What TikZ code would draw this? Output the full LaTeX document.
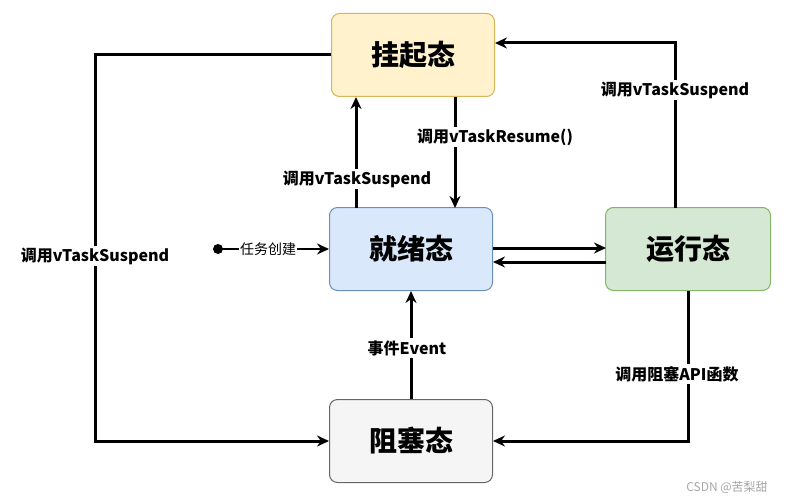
\documentclass[tikz,border=0pt]{standalone}
\usepackage{fontspec}
\setmainfont{Noto Sans CJK SC}
\usetikzlibrary{arrows.meta}
\definecolor{sf}{HTML}{FFF2CC}\definecolor{sd}{HTML}{D6B656}
\definecolor{rf}{HTML}{DAE8FC}\definecolor{rd}{HTML}{6C8EBF}
\definecolor{gf}{HTML}{D5E8D4}\definecolor{gd}{HTML}{82B366}
\definecolor{bf}{HTML}{F5F5F5}\definecolor{bd}{HTML}{666666}
\begin{document}
\begin{tikzpicture}[x=1pt,y=-1pt,
 st/.style={draw,rounded corners=8pt,minimum width=163pt,minimum height=83pt,line width=1pt,font=\fontsize{28}{32}\selectfont\bfseries},
 ar/.style={line width=3pt,-{Stealth[length=12pt,width=11pt]}},
 lb/.style={fill=white,inner sep=2pt,font=\fontsize{16}{19}\selectfont\bfseries}]
\useasboundingbox (0,0) rectangle (786,500);
\node[st,fill=sf,draw=sd] (S) at (413,55) {挂起态};
\node[st,fill=rf,draw=rd] (R) at (411,249) {就绪态};
\node[st,fill=gf,draw=gd,minimum width=165pt] (U) at (688,249) {运行态};
\node[st,fill=bf,draw=bd] (B) at (411,441) {阻塞态};
\draw[ar] (S.west) -- (95,55) -- (95,441) -- (B.west);
\node[lb] at (95,256) {调用vTaskSuspend};
\draw[ar] (356,208) -- (356,97);
\node[lb] at (357,179) {调用vTaskSuspend};
\draw[ar] (455,97) -- (455,208);
\node[lb] at (495,137) {调用vTaskResume()};
\draw[ar] (675,208) -- (675,43) -- (495,43);
\node[lb] at (675,90) {调用vTaskSuspend};
\draw[ar] (493,248) -- (606,248);
\draw[ar] (606,262) -- (493,262);
\draw[ar] (688,291) -- (688,441) -- (B.east);
\node[lb] at (677,374) {调用阻塞API函数};
\draw[ar] (B.north) -- (R.south);
\node[lb] at (407,348) {事件Event};
\coordinate (st) at (218,249);
\fill (st) circle (5pt);
\draw[ar,line width=2pt] (st) -- (R.west);
\node[fill=white,inner sep=1pt,font=\fontsize{14}{16}\selectfont] at (268,249) {任务创建};
\node[text=gray!70,font=\fontsize{12}{14}\selectfont] at (727,487) {CSDN @苦梨甜};
\end{tikzpicture}
\end{document}
